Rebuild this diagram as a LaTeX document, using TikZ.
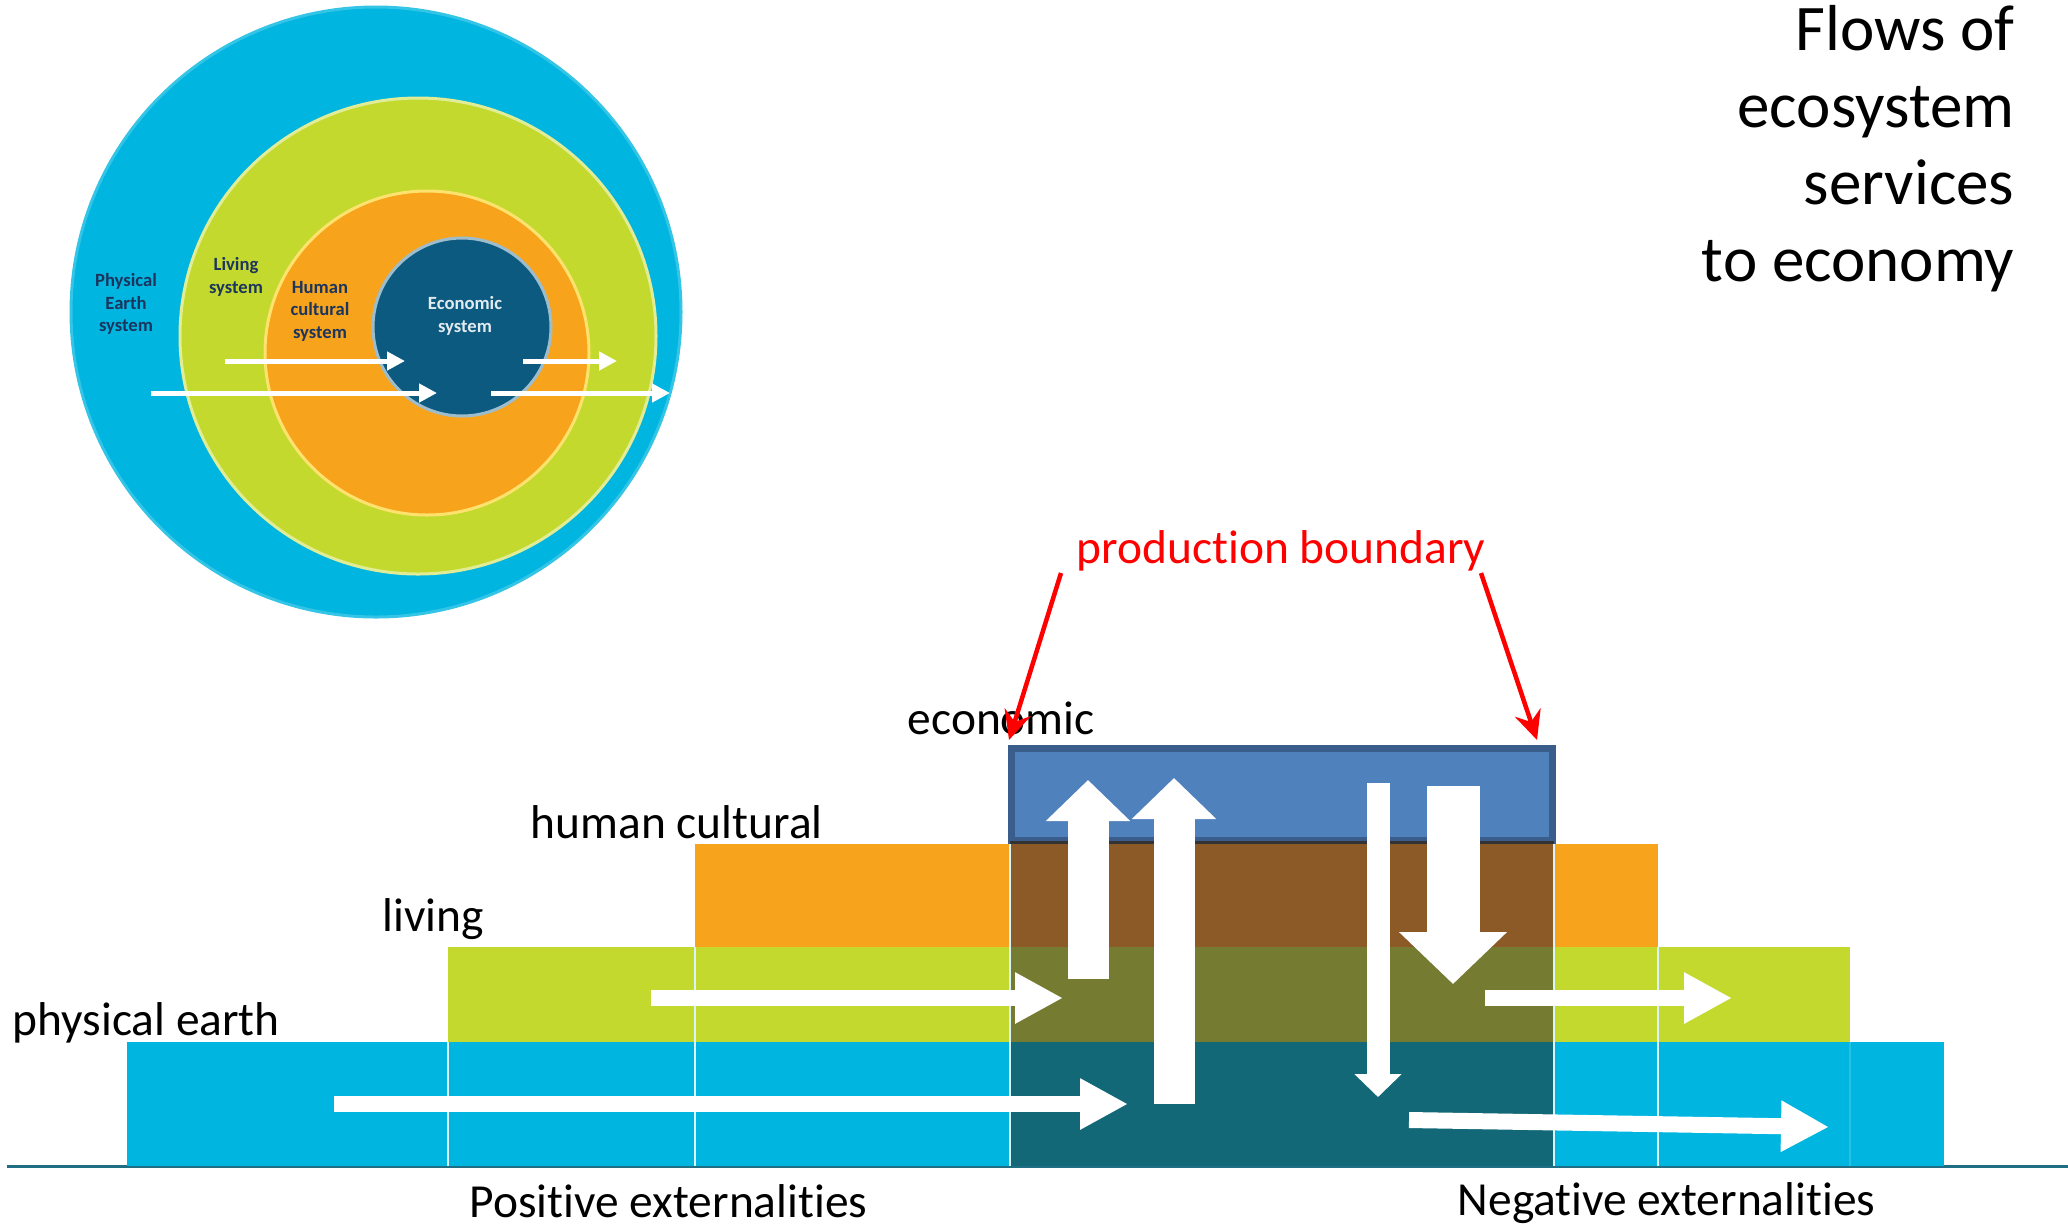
\documentclass[tikz,border=0pt]{standalone}
\usepackage{fontspec}
\setmainfont[Ligatures={NoCommon,NoDiscretionary,NoContextual,NoRequired},
  Contextuals=NoAlternate]{Carlito}
\usetikzlibrary{arrows.meta}

\definecolor{earthblue}{HTML}{00B5E0}
\definecolor{livinggreen}{HTML}{C4D92E}
\definecolor{cultorange}{HTML}{F7A31C}
\definecolor{econblue}{HTML}{4F81BD}
\definecolor{econborder}{HTML}{3A5D8C}
\definecolor{econbrown}{HTML}{8B5A27}
\definecolor{econolive}{HTML}{767B32}
\definecolor{econteal}{HTML}{136878}
\definecolor{ringecon}{HTML}{0C5A80}
\definecolor{ringtext}{HTML}{1B355E}
\definecolor{baseteal}{HTML}{1F6E84}

\tikzset{
  ringlabel/.style={align=center, inner sep=0, text=ringtext,
    font=\fontsize{5.3}{6.4}\selectfont\bfseries},
  ringflow/.style={white, line width=0.5mm, -{Triangle[length=1.8mm,width=1.8mm]}},
  sideflow/.style={white, line width=1.6mm, -{Triangle[length=4.8mm,width=4.8mm]}},
  upflow/.style={white, line width=4.1mm, -{Triangle[length=4.1mm,width=8.2mm]}},
  thinflow/.style={white, line width=2.3mm, -{Triangle[length=2.3mm,width=4.6mm]}},
  fatflow/.style={white, line width=5.3mm, -{Triangle[length=5.2mm,width=10.5mm]}},
  pointer/.style={red, line width=0.45mm, -{Stealth[length=2.9mm,width=2.7mm,inset=1mm]}}
}

\begin{document}
\begin{tikzpicture}[x=0.1mm,y=-0.1mm]
  \useasboundingbox (0,0) rectangle (2068,1228);

  \begin{scope}[line width=0.3mm]
    \filldraw[fill=earthblue, draw=earthblue!80!white] (376,312) circle[radius=30.5mm];
    \filldraw[fill=livinggreen, draw=livinggreen!50!white] (418,336) circle[radius=23.8mm];
    \filldraw[fill=cultorange, draw=cultorange!50!yellow!60!white] (427,353) circle[radius=16.2mm];
    \filldraw[fill=ringecon, draw=ringecon!40!white] (462,327) circle[radius=8.9mm];
  \end{scope}

  \node[ringlabel] (earthtxt) at (126,304) {Physical\\Earth\\system};
  \node[ringlabel] (livingtxt) at (236,277) {Living\\system};
  \node[ringlabel] (culttxt) at (320,311) {Human\\cultural\\system};
  \node[ringlabel, text=white!88!ringecon] (econtxt) at (465,316) {Economic\\system};

  \coordinate (r1s) at (225,361);
  \coordinate (r1e) at (405,361);
  \coordinate (r2s) at (151,393);
  \coordinate (r2e) at (437,393);
  \coordinate (r3s) at (523,361);
  \coordinate (r3e) at (617,361);
  \coordinate (r4s) at (491,393);
  \coordinate (r4e) at (670,393);
  \draw[ringflow] (r1s) -- (r1e);
  \draw[ringflow] (r2s) -- (r2e);
  \draw[ringflow] (r3s) -- (r3e);
  \draw[ringflow] (r4s) -- (r4e);

  \node[anchor=north east, align=right, inner sep=0,
        font=\fontsize{18.5}{21.9}\selectfont] (title) at (2015,5)
        {Flows of\\ecosystem\\services\\to economy};

  \draw[baseteal, line width=0.3mm] (7,1166) -- (2068,1166);

  \fill[earthblue] (127,1042) rectangle (1944,1166);
  \fill[livinggreen] (448,947) rectangle (1850,1042);
  \fill[cultorange] (695,844) rectangle (1658,947);
  \fill[econteal] (1010,1042) rectangle (1554,1166);
  \fill[econolive] (1010,947) rectangle (1554,1042);
  \fill[econbrown] (1010,844) rectangle (1554,947);
  \filldraw[fill=econblue, draw=econborder, line width=0.7mm] (1011,748) rectangle (1552,840);
  \draw[black!80, line width=0.3mm] (1010,842) -- (1554,842);

  \foreach \x/\y in {448/1042, 695/947, 1010/844, 1554/844, 1658/947}
    \draw[white!85!earthblue, line width=0.25mm] (\x,\y) -- (\x,1166);
  \draw[earthblue!85!white, line width=0.2mm] (1850,1042) -- (1850,1166);

  \begin{scope}[every node/.style={anchor=base west, inner sep=0,
      font=\fontsize{13.5}{16}\selectfont}]
    \node (prodbound) at (1076,563) [text=red] {production boundary};
    \node (econlbl) at (907,734) {economic};
    \node (cultlbl) at (530,838) {human cultural};
    \node (livinglbl) at (382,931) {living};
    \node (earthlbl) at (12,1035) {physical earth};
    \node (poslbl) at (469,1217) {Positive externalities};
    \node (neglbl) at (1457,1215) {Negative externalities};
  \end{scope}

  \coordinate (pbl) at (1061,573);
  \coordinate (pbr) at (1481,573);
  \coordinate (boxl) at (1009,740);
  \coordinate (boxr) at (1537,740);
  \draw[pointer] (pbl) -- (boxl);
  \draw[pointer] (pbr) -- (boxr);

  \coordinate (pos1s) at (651,998);
  \coordinate (pos1e) at (1063,998);
  \coordinate (pos2s) at (334,1104);
  \coordinate (pos2e) at (1128,1104);
  \coordinate (up1s) at (1088,979);
  \coordinate (up1e) at (1088,780);
  \coordinate (up2s) at (1174,1104);
  \coordinate (up2e) at (1174,778);
  \coordinate (dn1s) at (1378,783);
  \coordinate (dn1e) at (1378,1097);
  \coordinate (dn2s) at (1453,786);
  \coordinate (dn2e) at (1453,984);
  \coordinate (neg1s) at (1485,998);
  \coordinate (neg1e) at (1732,998);
  \coordinate (neg2s) at (1409,1120);
  \coordinate (neg2e) at (1829,1127);

  \draw[sideflow] (pos1s) -- (pos1e);
  \draw[sideflow] (pos2s) -- (pos2e);
  \draw[upflow] (up1s) -- (up1e);
  \draw[upflow] (up2s) -- (up2e);
  \draw[thinflow] (dn1s) -- (dn1e);
  \draw[fatflow] (dn2s) -- (dn2e);
  \draw[sideflow] (neg1s) -- (neg1e);
  \draw[sideflow] (neg2s) -- (neg2e);

\end{tikzpicture}
\end{document}
